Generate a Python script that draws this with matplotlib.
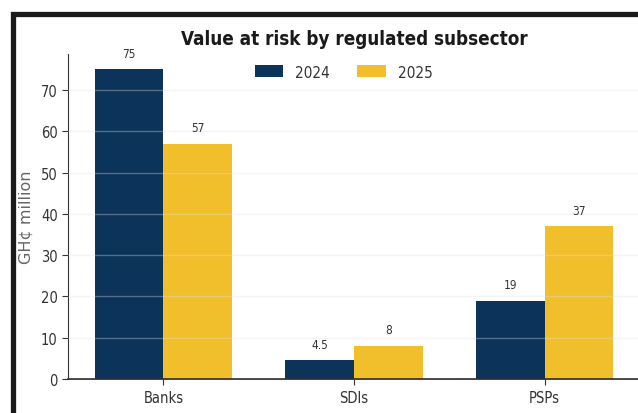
import matplotlib
matplotlib.use("Agg")
import matplotlib.pyplot as plt
from matplotlib.patches import Rectangle
from matplotlib.font_manager import FontProperties
import numpy as np

categories = ["Banks", "SDIs", "PSPs"]
years = ["2024", "2025"]
values_2024 = [75, 4.5, 19]
values_2025 = [57, 8, 37]
value_labels_2024 = ["75", "4.5", "19"]
value_labels_2025 = ["57", "8", "37"]

navy = "#0c3359"
gold = "#f2bf2c"
text_col = "#333333"

plt.rcParams["font.family"] = ["DejaVu Sans"]
plt.rcParams["font.stretch"] = "condensed"

W, H = 638, 414
fig = plt.figure(figsize=(W / 100, H / 100), dpi=100)
fig.patch.set_facecolor("white")

# page frame around the chart
frame = Rectangle((12.5 / W, -0.2), 2.0, (1 - 14.5 / H) + 0.2,
                  transform=fig.transFigure, fill=False,
                  edgecolor="#1a1a1a", linewidth=3.8, zorder=10)
fig.patches.append(frame)

ax = fig.add_axes([68 / W, 1 - 380 / H, (640 - 68) / W, (380 - 55) / H])

x = np.arange(len(categories))
w = 0.36
b1 = ax.bar(x - w / 2, values_2024, w, color=navy, label=years[0], zorder=1)
b2 = ax.bar(x + w / 2, values_2025, w, color=gold, label=years[1], zorder=1)

for rect, lab in zip(b1, value_labels_2024):
    ax.annotate(lab, (rect.get_x() + rect.get_width() / 2, rect.get_height()),
                xytext=(0, 7), textcoords="offset points", ha="center",
                va="bottom", fontsize=8.5, color=text_col)
for rect, lab in zip(b2, value_labels_2025):
    ax.annotate(lab, (rect.get_x() + rect.get_width() / 2, rect.get_height()),
                xytext=(0, 7), textcoords="offset points", ha="center",
                va="bottom", fontsize=8.5, color=text_col)

ax.set_xlim(-0.5, 2.5)
ax.set_ylim(0, 78.75)
ax.set_yticks(range(0, 71, 10))
ax.set_xticks(x)
ax.set_xticklabels(categories)
ax.tick_params(axis="both", labelsize=10.5, colors=text_col, length=4, width=0.8)
ax.tick_params(axis="x", pad=4)

ax.grid(axis="y", color="#e0e0e0", linewidth=1.0, alpha=0.35, zorder=2)
ax.set_axisbelow(False)
for s in ["top", "right"]:
    ax.spines[s].set_visible(False)
ax.spines["left"].set_color("#333333")
ax.spines["left"].set_linewidth(0.8)
ax.spines["bottom"].set_color("#222222")
ax.spines["bottom"].set_linewidth(1.2)

ylabel_font = FontProperties(family="DejaVu Sans", stretch="normal", size=11.5)
ax.set_ylabel("GH¢ million", fontproperties=ylabel_font, color="#666666")
ax.yaxis.set_label_coords(-34 / 572, 0.5)

ax.set_title("Value at risk by regulated subsector", fontsize=13.5,
             fontweight="bold", color="#1a1a1a", pad=7)

ax.legend(loc="upper center", bbox_to_anchor=(0.482, 1.01), ncol=2,
          frameon=False, fontsize=11, handlelength=1.85, handleheight=0.8,
          handletextpad=0.8, columnspacing=1.8, labelcolor=text_col)

fig.savefig("out.png", dpi=100, facecolor="white")
